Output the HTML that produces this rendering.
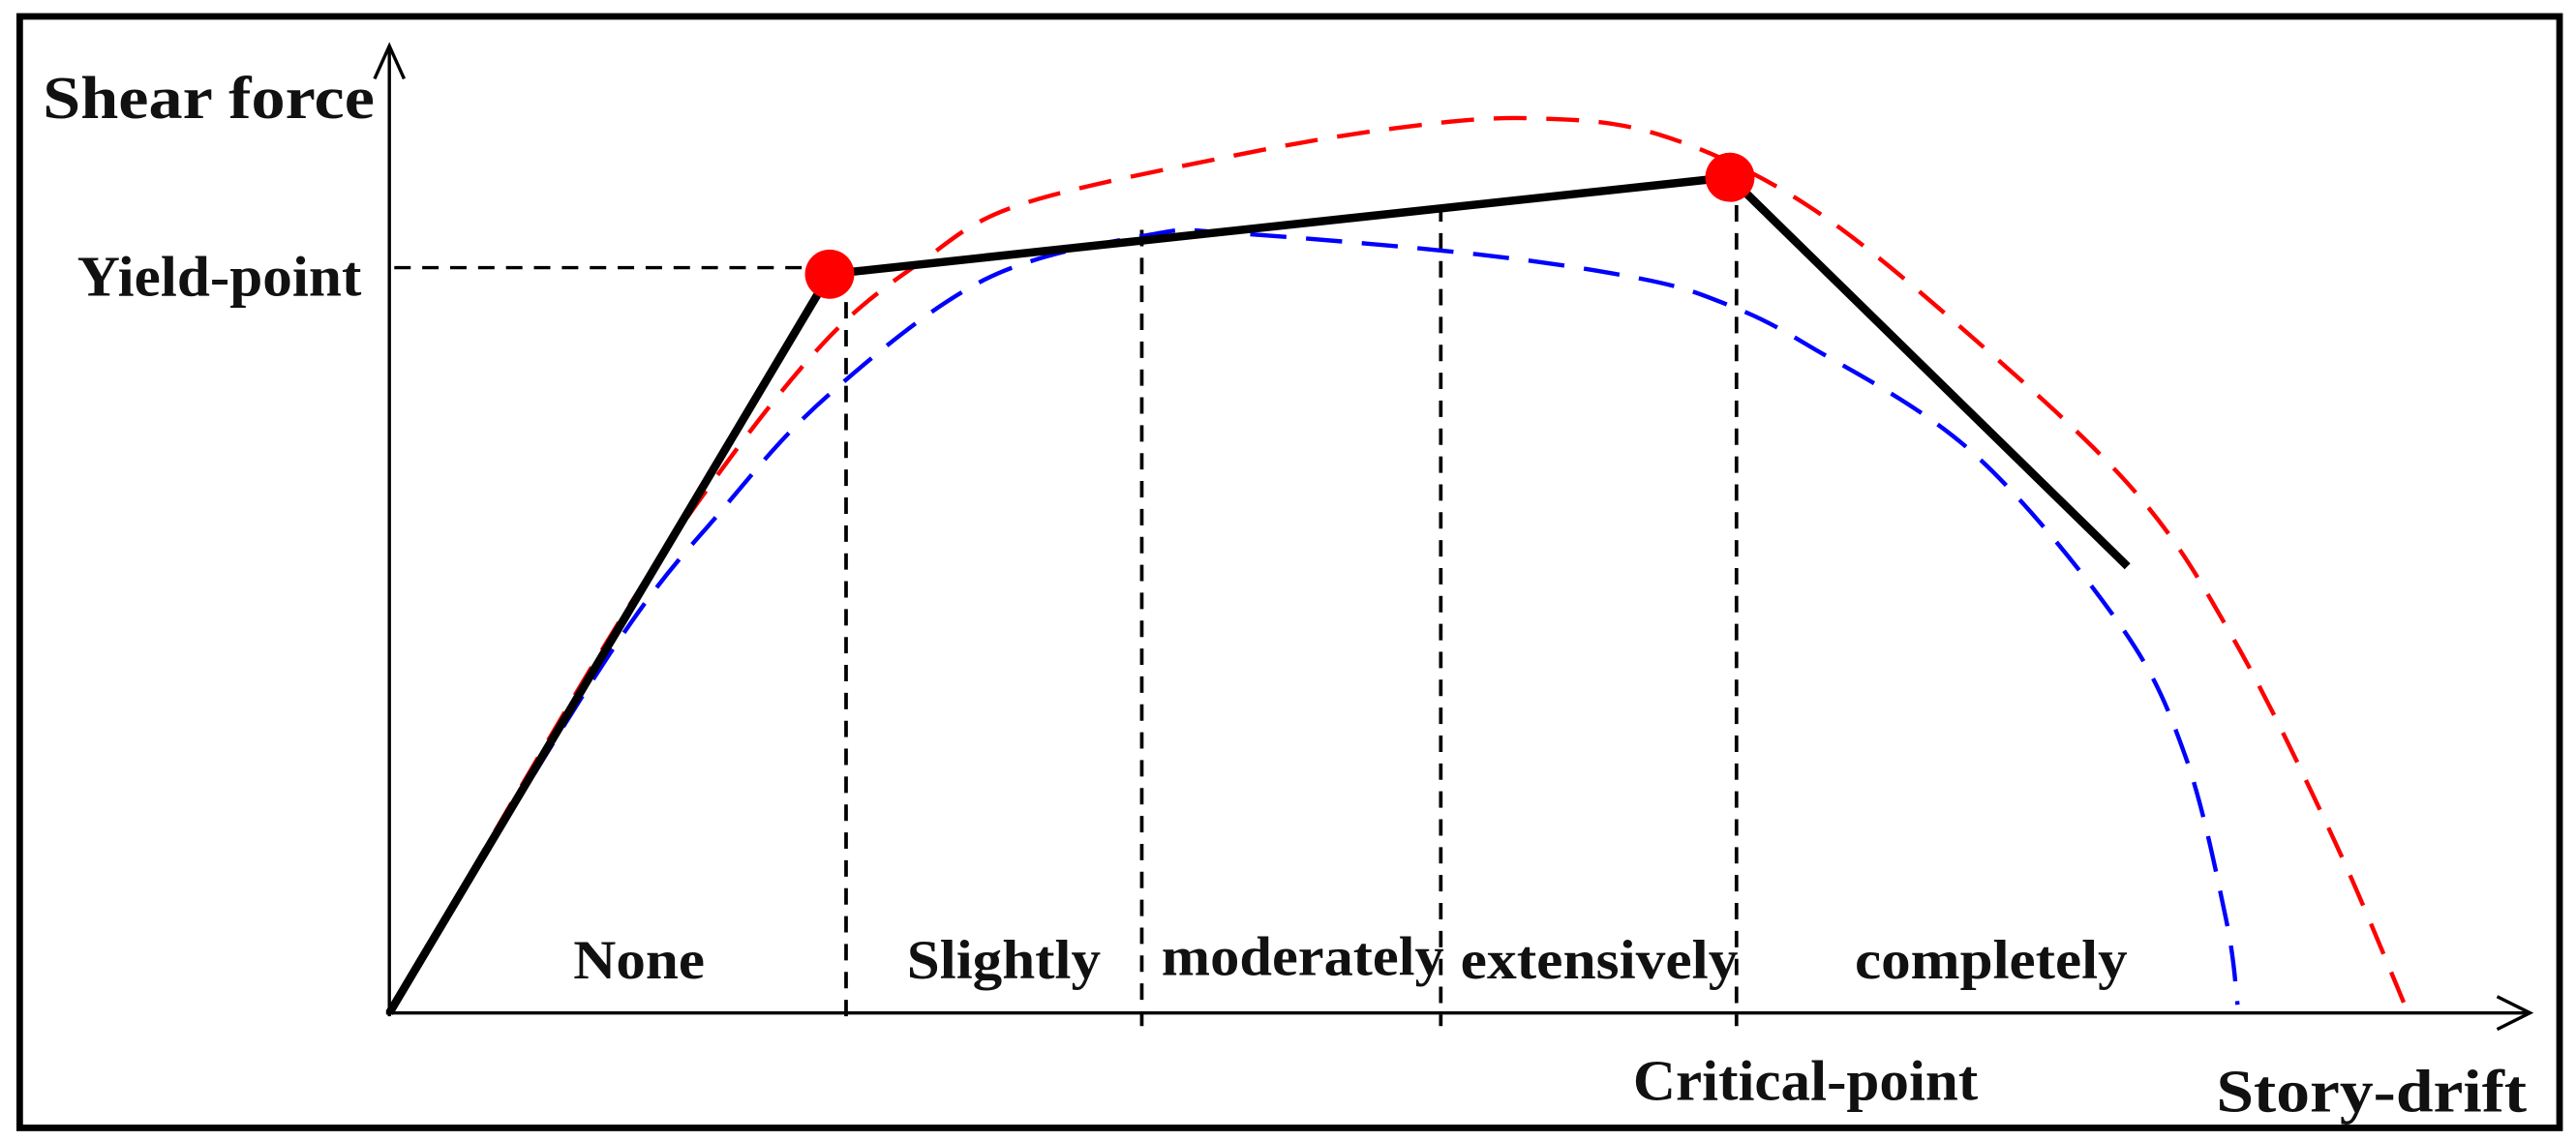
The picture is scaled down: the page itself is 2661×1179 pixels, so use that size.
<!DOCTYPE html>
<html><head><meta charset="utf-8"><style>
html,body{margin:0;padding:0;background:#fff;}
svg{display:block;}
text{font-family:"Liberation Serif",serif;font-weight:bold;fill:#111;}
</style></head><body>
<svg id="chart" width="2661" height="1179" viewBox="0 0 1568 695" preserveAspectRatio="none" xmlns="http://www.w3.org/2000/svg">
<rect x="12" y="10" width="1546" height="677" fill="#fff" stroke="#000" stroke-width="4"/>
<g id="marks"></g>
<line x1="237" y1="619" x2="237" y2="28" stroke="#000" stroke-width="2"/>
<polyline points="228,48 237,28 246,48" fill="none" stroke="#000" stroke-width="2"/>
<line x1="235" y1="617" x2="1540" y2="617" stroke="#000" stroke-width="2"/>
<polyline points="1520,607 1540,617 1520,627" fill="none" stroke="#000" stroke-width="2"/>
<text x="26" y="72" font-size="37" textLength="202" lengthAdjust="spacingAndGlyphs">Shear force</text>
<text x="47" y="180" font-size="35" textLength="173" lengthAdjust="spacingAndGlyphs">Yield-point</text>
<text x="994" y="670" font-size="35" textLength="210" lengthAdjust="spacingAndGlyphs">Critical-point</text>
<text x="1349" y="677" font-size="37" textLength="189" lengthAdjust="spacingAndGlyphs">Story-drift</text>
<g id="zones"></g>
</svg>
<script>
const xVals = [0, 268, 816, 1058];
const yVals = [0, 450, 509, 272];
const redX = [0,133,203,268,323,383,513,613,693,773,863,963,1063,1123,1183,1228];
const redY = [0,227,332,412,457,492,522,539,545,535,492,412,317,227,107,2];
const blueX = [0,133,203,268,363,463,513,663,763,813,863,963,1053,1093,1118,1125];
const blueY = [0,217,307,377,447,474,475,462,447,432,407,342,237,157,57,5];
const boundaryX = [278,458,640,820];
const boundaryTop = [450,477,492,509];
const zoneLabels = ["None","Slightly","moderately","extensively","completely"];
const zoneLabelX = [112,315,470,652,892];
const zoneLabelW = [80,118,172,169,166];
const yieldIdx = 1, critIdx = 2;

const X = v => 237 + v;
const Y = v => 617 - v;
const NS = "http://www.w3.org/2000/svg";
const g = document.getElementById('marks');
const zg = document.getElementById('zones');

function smooth(xs, ys){
  const p = xs.map((x,i)=>[X(x),Y(ys[i])]);
  let d = `M${p[0][0]},${p[0][1]}`;
  for(let i=0;i<p.length-1;i++){
    const p0=p[Math.max(0,i-1)], p1=p[i], p2=p[i+1], p3=p[Math.min(p.length-1,i+2)];
    const c1=[p1[0]+(p2[0]-p0[0])/6, p1[1]+(p2[1]-p0[1])/6];
    const c2=[p2[0]-(p3[0]-p1[0])/6, p2[1]-(p3[1]-p1[1])/6];
    d += ` C${c1[0]},${c1[1]} ${c2[0]},${c2[1]} ${p2[0]},${p2[1]}`;
  }
  return d;
}

const hl = document.createElementNS(NS,'line');


hl.setAttribute('x1',X(3)); hl.setAttribute('x2',X(xVals[yieldIdx]-10));
hl.setAttribute('y1',Y(yVals[yieldIdx]+4)); hl.setAttribute('y2',Y(yVals[yieldIdx]+4));
hl.setAttribute('stroke','#000'); hl.setAttribute('stroke-width','2'); hl.setAttribute('stroke-dasharray','10 7');
g.appendChild(hl);

boundaryX.forEach((bx,i)=>{
  const l = document.createElementNS(NS,'line');
  
  
  l.setAttribute('x1',X(bx)); l.setAttribute('x2',X(bx));
  l.setAttribute('y1',Y(boundaryTop[i])); l.setAttribute('y2',Y(-8));
  l.setAttribute('stroke','#000'); l.setAttribute('stroke-width','2.2'); l.setAttribute('stroke-dasharray','10 7');
  g.appendChild(l);
});

const red = document.createElementNS(NS,'path');


red.setAttribute('d',smooth(redX,redY));
red.setAttribute('fill','none'); red.setAttribute('stroke','#f00'); red.setAttribute('stroke-width','2.6'); red.setAttribute('stroke-dasharray','20 12');
g.appendChild(red);

const blue = document.createElementNS(NS,'path');


blue.setAttribute('d',smooth(blueX,blueY));
blue.setAttribute('fill','none'); blue.setAttribute('stroke','#00f'); blue.setAttribute('stroke-width','2.6'); blue.setAttribute('stroke-dasharray','22 12');
g.appendChild(blue);

const bl = document.createElementNS(NS,'polyline');


bl.setAttribute('points',xVals.map((x,i)=>X(x)+','+Y(yVals[i])).join(' '));
bl.setAttribute('fill','none'); bl.setAttribute('stroke','#000'); bl.setAttribute('stroke-width','5');
g.appendChild(bl);

[yieldIdx,critIdx].forEach((k,j)=>{
  const c = document.createElementNS(NS,'circle');
  
  
  c.setAttribute('cx',X(xVals[k])); c.setAttribute('cy',Y(yVals[k])); c.setAttribute('r','15');
  c.setAttribute('fill','#f00');
  g.appendChild(c);
});

zoneLabels.forEach((t,i)=>{
  const tx = document.createElementNS(NS,'text');
  
  
  tx.setAttribute('x',X(zoneLabelX[i])); tx.setAttribute('y', i===2 ? 594 : 596);
  tx.setAttribute('font-size','34');
  tx.setAttribute('textLength',zoneLabelW[i]);
  tx.setAttribute('lengthAdjust','spacingAndGlyphs');
  tx.textContent = t;
  zg.appendChild(tx);
});
</script>
</body></html>
